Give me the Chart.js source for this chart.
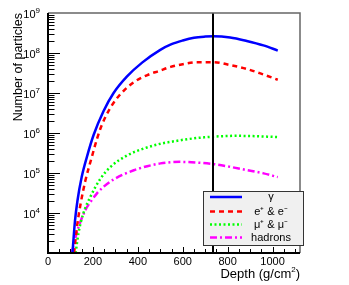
<!DOCTYPE html>
<html>
<head>
<meta charset="utf-8">
<script src="https://cdn.jsdelivr.net/npm/chart.js@4"></script>
<style>
  html, body { margin: 0; padding: 0; background: #fff; }
  #wrap { width: 349px; height: 285px; }
</style>
</head>
<body>
<div id="wrap"><canvas id="shower"></canvas></div>
<script>
// depth in g/cm2, particle counts
const gammaDepth = [109, 120, 131, 150, 173, 203, 247, 292, 352, 419, 500, 550, 600, 650, 700, 736, 811, 885, 959, 1023];
const gammaN = [1e3, 6.3e3, 2e4, 7.9e4, 2.5e5, 8.9e5, 3.5e6, 1e7, 2.6e7, 5.75e7, 1.2e8, 1.66e8, 2.05e8, 2.4e8, 2.57e8, 2.63e8, 2.45e8, 2.0e8, 1.55e8, 1.15e8];

const elecDepth = [116, 130, 146, 166, 195, 218, 240, 277, 322, 382, 442, 494, 546, 600, 662, 736, 811, 885, 959, 1023];
const elecN = [1e3, 5e3, 1.8e4, 6.3e4, 2.5e5, 7.1e5, 1.6e6, 4.2e6, 9.3e6, 1.86e7, 2.8e7, 3.55e7, 4.5e7, 5.25e7, 5.9e7, 5.9e7, 5.0e7, 4.0e7, 2.9e7, 2.15e7];

const muonDepth = [123, 136, 158, 188, 233, 277, 352, 427, 501, 546, 620, 695, 770, 844, 930, 1023];
const muonN = [1e3, 3.2e3, 1e4, 2.5e4, 7.1e4, 1.4e5, 2.75e5, 4.1e5, 5.4e5, 6.0e5, 7.0e5, 7.8e5, 8.3e5, 8.5e5, 8.3e5, 7.9e5];

const hadDepth = [106, 128, 166, 195, 218, 247, 292, 382, 442, 501, 591, 665, 740, 815, 889, 960, 1023];
const hadN = [1e3, 3.2e3, 1.17e4, 2.1e4, 3.1e4, 4.5e4, 6.9e4, 1.17e5, 1.48e5, 1.74e5, 1.9e5, 1.82e5, 1.66e5, 1.41e5, 1.17e5, 9.8e4, 7.9e4];

const seriesNames = ['γ', 'e⁺ & e⁻', 'μ⁺ & μ⁻', 'hadrons'];
const xTicks = [0, 200, 400, 600, 800, 1000];
const yExponents = [4, 5, 6, 7, 8, 9];
const maxDepth = 735;

const FONT = '"Liberation Sans", Arial, sans-serif';

function pts(xs, ys) {
    return xs.map((x, i) => ({x: x, y: ys[i]}));
}

const styles = [
    {color: '#0000ff', dash: []},
    {color: '#ff0000', dash: [5, 4]},
    {color: '#00ff00', dash: [2, 2.5]},
    {color: '#ff00ff', dash: [7, 3, 2, 3]}
];

const datasets = [
    pts(gammaDepth, gammaN),
    pts(elecDepth, elecN),
    pts(muonDepth, muonN),
    pts(hadDepth, hadN)
].map((d, i) => ({
    label: seriesNames[i],
    data: d,
    borderColor: styles[i].color,
    borderDash: styles[i].dash,
    borderWidth: 2.5,
    pointRadius: 0,
    fill: false,
    cubicInterpolationMode: 'monotone'
}));

const decor = {
    id: 'decor',
    afterDatasetsDraw(chart) {
        const ctx = chart.ctx;
        const xs = chart.scales.x, ys = chart.scales.y;
        const a = chart.chartArea;
        ctx.save();

        // vertical line at shower maximum
        ctx.strokeStyle = '#000';
        ctx.lineWidth = 2;
        const xm = Math.round(xs.getPixelForValue(maxDepth));
        ctx.beginPath();
        ctx.moveTo(xm, a.top);
        ctx.lineTo(xm, a.bottom);
        ctx.stroke();

        // frame
        ctx.lineWidth = 1.5;
        ctx.strokeStyle = '#666';
        ctx.beginPath();
        ctx.moveTo(a.left, a.top);
        ctx.lineTo(a.right, a.top);
        ctx.lineTo(a.right, a.bottom);
        ctx.stroke();
        ctx.strokeStyle = '#000';
        ctx.lineWidth = 2;
        ctx.beginPath();
        ctx.moveTo(a.left, a.top);
        ctx.lineTo(a.left, a.bottom);
        ctx.lineTo(a.right, a.bottom);
        ctx.stroke();

        // x ticks every 50
        ctx.lineWidth = 1;
        ctx.strokeStyle = '#000';
        for (let v = 50; v < xs.max; v += 50) {
            const px = Math.round(xs.getPixelForValue(v)) + 0.5;
            const len = v % 200 === 0 ? 6 : 4;
            ctx.beginPath();
            ctx.moveTo(px, a.bottom);
            ctx.lineTo(px, a.bottom - len);
            ctx.stroke();
        }
        // y ticks, log minor
        for (let e = 3; e < 9; e++) {
            for (let m = 1; m < 10; m++) {
                const py = Math.round(ys.getPixelForValue(m * Math.pow(10, e))) + 0.5;
                const len = m === 1 ? 12 : 6.5;
                ctx.beginPath();
                ctx.moveTo(a.left, py);
                ctx.lineTo(a.left + len, py);
                ctx.stroke();
            }
        }

        // x labels
        ctx.fillStyle = '#000';
        ctx.font = '11px ' + FONT;
        ctx.textAlign = 'center';
        ctx.textBaseline = 'alphabetic';
        xTicks.forEach(v => {
            ctx.fillText(String(v), xs.getPixelForValue(v), 265);
        });

        // y labels 10^n
        yExponents.forEach(e => {
            const py = ys.getPixelForValue(Math.pow(10, e));
            ctx.font = '8px ' + FONT;
            ctx.textAlign = 'right';
            const ew = ctx.measureText(String(e)).width;
            ctx.fillText(String(e), 40, py);
            ctx.font = '11px ' + FONT;
            ctx.fillText('10', 40 - ew, py + 5);
        });

        // axis titles
        ctx.font = '13px ' + FONT;
        ctx.textAlign = 'right';
        const sup = '2', tail = ')';
        ctx.fillText(tail, 300, 278);
        const tw = ctx.measureText(tail).width;
        ctx.font = '8px ' + FONT;
        ctx.fillText(sup, 300 - tw, 272);
        const sw = ctx.measureText(sup).width;
        ctx.font = '13px ' + FONT;
        ctx.fillText('Depth (g/cm', 300 - tw - sw, 278);

        ctx.save();
        ctx.translate(22, 13);
        ctx.rotate(-Math.PI / 2);
        ctx.textAlign = 'right';
        ctx.font = '12.5px ' + FONT;
        ctx.fillText('Number of particles', 0, 0);
        ctx.restore();

        // legend box
        const lx = 203, ly = 191, lw = 100, lh = 54;
        ctx.fillStyle = '#f0f0f0';
        ctx.fillRect(lx, ly, lw, lh);
        ctx.strokeStyle = '#333';
        ctx.lineWidth = 1;
        ctx.strokeRect(lx + 0.5, ly + 0.5, lw, lh);
        const rows = [197, 211.5, 224.5, 237.5];
        chart.data.datasets.forEach((ds, i) => {
            ctx.strokeStyle = ds.borderColor;
            ctx.lineWidth = 2.5;
            ctx.setLineDash(ds.borderDash);
            ctx.beginPath();
            ctx.moveTo(210, rows[i]);
            ctx.lineTo(242, rows[i]);
            ctx.stroke();
            ctx.setLineDash([]);
            ctx.fillStyle = '#000';
            ctx.font = '11px ' + FONT;
            ctx.textAlign = 'center';
            ctx.textBaseline = 'middle';
            ctx.fillText(ds.label, 271, rows[i]);
        });
        ctx.restore();
    }
};

new Chart(document.getElementById('shower'), {
    type: 'line',
    data: {datasets: datasets},
    options: {
        responsive: true,
        maintainAspectRatio: false,
        animation: false,
        layout: {padding: {left: 48, right: 49, top: 13, bottom: 32}},
        scales: {
            x: {
                type: 'linear',
                display: false,
                min: 0,
                max: 1122
            },
            y: {
                type: 'logarithmic',
                display: false,
                min: 1e3,
                max: 1e9
            }
        },
        plugins: {
            legend: {display: false},
            tooltip: {enabled: false}
        }
    },
    plugins: [decor]
});
</script>
</body>
</html>
